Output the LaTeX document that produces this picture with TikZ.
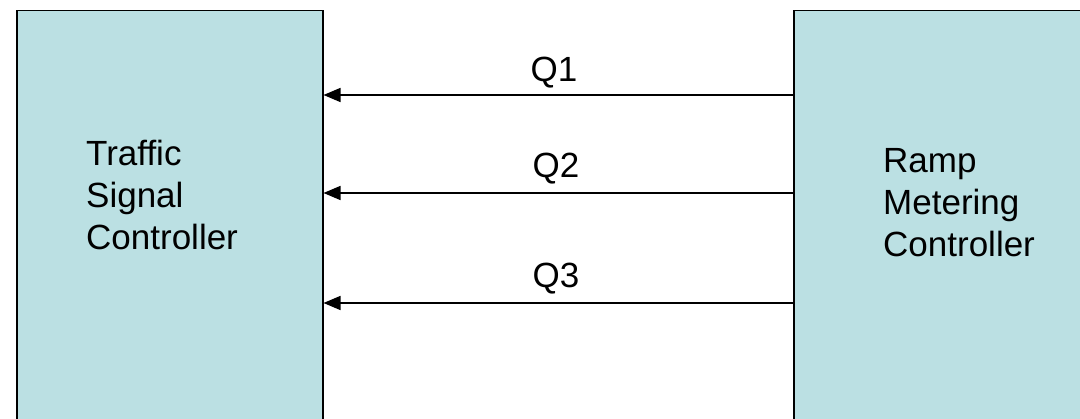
\documentclass[tikz,border=0pt]{standalone}
\usepackage{fontspec}
\setmainfont{Liberation Sans}
\usetikzlibrary{arrows.meta}
\definecolor{boxfill}{RGB}{187,224,227}
\tikzset{
  ctrlbox/.style={draw=black, line width=1.5pt, fill=boxfill, anchor=north west, inner sep=0pt},
  boxtext/.style={font=\fontsize{35}{42}\selectfont, align=left, inner sep=0pt, anchor=base west},
  qlabel/.style={font=\fontsize{35}{42}\selectfont, inner sep=0pt, anchor=base},
  qarrow/.style={line width=1.5pt, -{Triangle[length=17pt,width=14pt]}}
}
\begin{document}
\begin{tikzpicture}[x=1pt,y=-1pt]
\useasboundingbox (0,0) rectangle (1080,419);
\clip (0,0) rectangle (1080,419);
\node[ctrlbox, minimum width=306pt, minimum height=430pt] (tsc) at (16,10) {};
\node[ctrlbox, minimum width=310pt, minimum height=430pt] (rmc) at (793,10) {};
\node[boxtext] (tsct) at (86,250) {Traffic\\Signal\\Controller};
\node[boxtext] (rmct) at (883,257) {Ramp\\Metering\\Controller};
\coordinate (y1) at (0,95);
\coordinate (y2) at (0,193);
\coordinate (y3) at (0,303);
\draw[qarrow] (rmc.west |- y1) -- (tsc.east |- y1);
\draw[qarrow] (rmc.west |- y2) -- (tsc.east |- y2);
\draw[qarrow] (rmc.west |- y3) -- (tsc.east |- y3);
\node[qlabel] (q1) at (554,82) {Q1};
\node[qlabel] (q2) at (556,178) {Q2};
\node[qlabel] (q3) at (556,288) {Q3};
\end{tikzpicture}
\end{document}
